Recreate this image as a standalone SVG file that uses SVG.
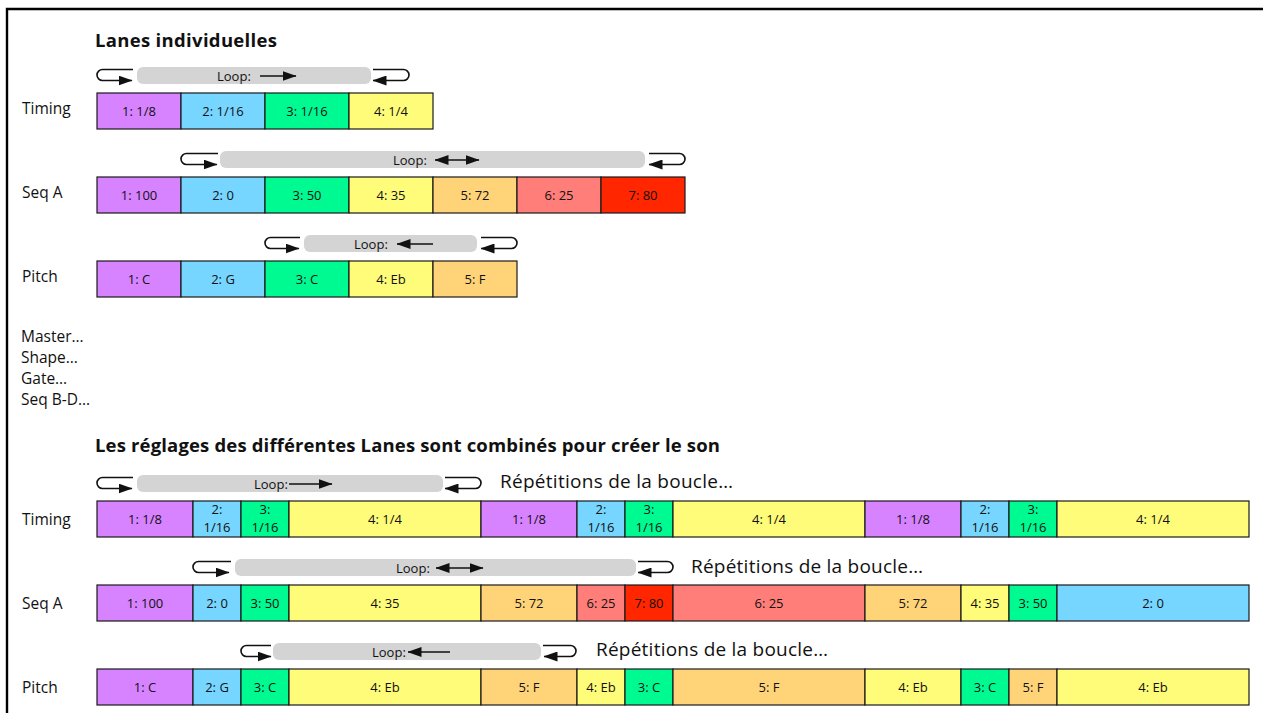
<svg xmlns="http://www.w3.org/2000/svg" width="1263" height="713" viewBox="0 0 1263 713">
<style>
text{font-family:"Open Sans","Noto Sans",sans-serif;fill:#111}
.cell rect{stroke:#1a1a1a;stroke-width:1.2}
.cell text{font-size:13px;text-anchor:middle}
.lab{font-size:15.5px}
.ttl{font-size:18.5px;font-weight:bold}
.rep{font-size:19px}
.bar{fill:#d4d4d4}
.lt{font-size:13px}
.ret{fill:none;stroke:#111;stroke-width:1.6}
.ia{stroke:#111;stroke-width:1.6}
.c1{fill:#D783FF}.c2{fill:#76D6FF}.c3{fill:#00FA92}.c4{fill:#FFFC79}.c5{fill:#FFD479}.c6{fill:#FF7E79}.c7{fill:#FF2600}
</style>
<defs>
<marker id="ah" markerUnits="userSpaceOnUse" viewBox="0 0 14 10" markerWidth="14" markerHeight="10" refX="13.5" refY="5" orient="auto-start-reverse"><path d="M0,0 L14,5 L0,10 z" fill="#111"/></marker>
</defs>
<rect width="1263" height="713" fill="#fff"/>
<path d="M7,713 V9 H1263" fill="none" stroke="#000" stroke-width="2.4"/>

<text class="ttl" x="95" y="47" textLength="182">Lanes individuelles</text>
<text class="ttl" x="95" y="452" textLength="625">Les réglages des différentes Lanes sont combinés pour créer le son</text>

<g id="labels">
<text class="lab" x="22" y="114">Timing</text>
<text class="lab" x="22" y="198">Seq A</text>
<text class="lab" x="22" y="282">Pitch</text>
<text class="lab" x="21" y="342">Master…</text>
<text class="lab" x="21" y="363">Shape…</text>
<text class="lab" x="21" y="384">Gate…</text>
<text class="lab" x="21" y="404.5">Seq B-D…</text>
<text class="lab" x="22" y="524.5">Timing</text>
<text class="lab" x="22" y="608.5">Seq A</text>
<text class="lab" x="22" y="692.5">Pitch</text>
</g>

<!-- top Timing -->
<g id="tt1" class="cell"><rect class="c1" x="97" y="93" width="84" height="36"/><text x="139" y="115.5">1: 1/8</text></g>
<g id="tt2" class="cell"><rect class="c2" x="181" y="93" width="84" height="36"/><text x="223" y="115.5">2: 1/16</text></g>
<g id="tt3" class="cell"><rect class="c3" x="265" y="93" width="84" height="36"/><text x="307" y="115.5">3: 1/16</text></g>
<g id="tt4" class="cell"><rect class="c4" x="349" y="93" width="84" height="36"/><text x="391" y="115.5">4: 1/4</text></g>

<!-- top Seq A -->
<g id="ts1" class="cell"><rect class="c1" x="97" y="177" width="84" height="36"/><text x="139" y="199.5">1: 100</text></g>
<g id="ts2" class="cell"><rect class="c2" x="181" y="177" width="84" height="36"/><text x="223" y="199.5">2: 0</text></g>
<g id="ts3" class="cell"><rect class="c3" x="265" y="177" width="84" height="36"/><text x="307" y="199.5">3: 50</text></g>
<g id="ts4" class="cell"><rect class="c4" x="349" y="177" width="84" height="36"/><text x="391" y="199.5">4: 35</text></g>
<g id="ts5" class="cell"><rect class="c5" x="433" y="177" width="84" height="36"/><text x="475" y="199.5">5: 72</text></g>
<g id="ts6" class="cell"><rect class="c6" x="517" y="177" width="84" height="36"/><text x="559" y="199.5">6: 25</text></g>
<g id="ts7" class="cell"><rect class="c7" x="601" y="177" width="84" height="36"/><text x="643" y="199.5">7: 80</text></g>

<!-- top Pitch -->
<g id="tp1" class="cell"><rect class="c1" x="97" y="261" width="84" height="36"/><text x="139" y="283.5">1: C</text></g>
<g id="tp2" class="cell"><rect class="c2" x="181" y="261" width="84" height="36"/><text x="223" y="283.5">2: G</text></g>
<g id="tp3" class="cell"><rect class="c3" x="265" y="261" width="84" height="36"/><text x="307" y="283.5">3: C</text></g>
<g id="tp4" class="cell"><rect class="c4" x="349" y="261" width="84" height="36"/><text x="391" y="283.5">4: Eb</text></g>
<g id="tp5" class="cell"><rect class="c5" x="433" y="261" width="84" height="36"/><text x="475" y="283.5">5: F</text></g>

<!-- bottom Timing -->
<g id="bt1" class="cell"><rect class="c1" x="97" y="501" width="96" height="36"/><text x="145" y="523.5">1: 1/8</text></g>
<g id="bt2" class="cell"><rect class="c2" x="193" y="501" width="48" height="36"/><text x="217" y="514">2:</text><text x="217" y="532">1/16</text></g>
<g id="bt3" class="cell"><rect class="c3" x="241" y="501" width="48" height="36"/><text x="265" y="514">3:</text><text x="265" y="532">1/16</text></g>
<g id="bt4" class="cell"><rect class="c4" x="289" y="501" width="192" height="36"/><text x="385" y="523.5">4: 1/4</text></g>
<g id="bt5" class="cell"><rect class="c1" x="481" y="501" width="96" height="36"/><text x="529" y="523.5">1: 1/8</text></g>
<g id="bt6" class="cell"><rect class="c2" x="577" y="501" width="48" height="36"/><text x="601" y="514">2:</text><text x="601" y="532">1/16</text></g>
<g id="bt7" class="cell"><rect class="c3" x="625" y="501" width="48" height="36"/><text x="649" y="514">3:</text><text x="649" y="532">1/16</text></g>
<g id="bt8" class="cell"><rect class="c4" x="673" y="501" width="192" height="36"/><text x="769" y="523.5">4: 1/4</text></g>
<g id="bt9" class="cell"><rect class="c1" x="865" y="501" width="96" height="36"/><text x="913" y="523.5">1: 1/8</text></g>
<g id="bt10" class="cell"><rect class="c2" x="961" y="501" width="48" height="36"/><text x="985" y="514">2:</text><text x="985" y="532">1/16</text></g>
<g id="bt11" class="cell"><rect class="c3" x="1009" y="501" width="48" height="36"/><text x="1033" y="514">3:</text><text x="1033" y="532">1/16</text></g>
<g id="bt12" class="cell"><rect class="c4" x="1057" y="501" width="192" height="36"/><text x="1153" y="523.5">4: 1/4</text></g>

<!-- bottom Seq A -->
<g id="bs1" class="cell"><rect class="c1" x="97" y="585" width="96" height="36"/><text x="145" y="607.5">1: 100</text></g>
<g id="bs2" class="cell"><rect class="c2" x="193" y="585" width="48" height="36"/><text x="217" y="607.5">2: 0</text></g>
<g id="bs3" class="cell"><rect class="c3" x="241" y="585" width="48" height="36"/><text x="265" y="607.5">3: 50</text></g>
<g id="bs4" class="cell"><rect class="c4" x="289" y="585" width="192" height="36"/><text x="385" y="607.5">4: 35</text></g>
<g id="bs5" class="cell"><rect class="c5" x="481" y="585" width="96" height="36"/><text x="529" y="607.5">5: 72</text></g>
<g id="bs6" class="cell"><rect class="c6" x="577" y="585" width="48" height="36"/><text x="601" y="607.5">6: 25</text></g>
<g id="bs7" class="cell"><rect class="c7" x="625" y="585" width="48" height="36"/><text x="649" y="607.5">7: 80</text></g>
<g id="bs8" class="cell"><rect class="c6" x="673" y="585" width="192" height="36"/><text x="769" y="607.5">6: 25</text></g>
<g id="bs9" class="cell"><rect class="c5" x="865" y="585" width="96" height="36"/><text x="913" y="607.5">5: 72</text></g>
<g id="bs10" class="cell"><rect class="c4" x="961" y="585" width="48" height="36"/><text x="985" y="607.5">4: 35</text></g>
<g id="bs11" class="cell"><rect class="c3" x="1009" y="585" width="48" height="36"/><text x="1033" y="607.5">3: 50</text></g>
<g id="bs12" class="cell"><rect class="c2" x="1057" y="585" width="192" height="36"/><text x="1153" y="607.5">2: 0</text></g>

<!-- bottom Pitch -->
<g id="bp1" class="cell"><rect class="c1" x="97" y="669" width="96" height="36"/><text x="145" y="691.5">1: C</text></g>
<g id="bp2" class="cell"><rect class="c2" x="193" y="669" width="48" height="36"/><text x="217" y="691.5">2: G</text></g>
<g id="bp3" class="cell"><rect class="c3" x="241" y="669" width="48" height="36"/><text x="265" y="691.5">3: C</text></g>
<g id="bp4" class="cell"><rect class="c4" x="289" y="669" width="192" height="36"/><text x="385" y="691.5">4: Eb</text></g>
<g id="bp5" class="cell"><rect class="c5" x="481" y="669" width="96" height="36"/><text x="529" y="691.5">5: F</text></g>
<g id="bp6" class="cell"><rect class="c4" x="577" y="669" width="48" height="36"/><text x="601" y="691.5">4: Eb</text></g>
<g id="bp7" class="cell"><rect class="c3" x="625" y="669" width="48" height="36"/><text x="649" y="691.5">3: C</text></g>
<g id="bp8" class="cell"><rect class="c5" x="673" y="669" width="192" height="36"/><text x="769" y="691.5">5: F</text></g>
<g id="bp9" class="cell"><rect class="c4" x="865" y="669" width="96" height="36"/><text x="913" y="691.5">4: Eb</text></g>
<g id="bp10" class="cell"><rect class="c3" x="961" y="669" width="48" height="36"/><text x="985" y="691.5">3: C</text></g>
<g id="bp11" class="cell"><rect class="c5" x="1009" y="669" width="48" height="36"/><text x="1033" y="691.5">5: F</text></g>
<g id="bp12" class="cell"><rect class="c4" x="1057" y="669" width="192" height="36"/><text x="1153" y="691.5">4: Eb</text></g>

<!-- loop bars -->
<g id="loop-tt"><rect class="bar" x="137" y="67" width="234" height="17" rx="6"/><text class="lt" x="217" y="80.5">Loop:</text><line class="ia" x1="260" y1="76" x2="296" y2="76" marker-end="url(#ah)"/></g>
<g id="loop-ts"><rect class="bar" x="220" y="151" width="425" height="17" rx="6"/><text class="lt" x="393" y="164.5">Loop:</text><line class="ia" x1="435" y1="160" x2="479" y2="160" marker-start="url(#ah)" marker-end="url(#ah)"/></g>
<g id="loop-tp"><rect class="bar" x="304" y="235" width="173" height="17" rx="6"/><text class="lt" x="354" y="248.5">Loop:</text><line class="ia" x1="433" y1="244" x2="397" y2="244" marker-end="url(#ah)"/></g>
<g id="loop-bt"><rect class="bar" x="137" y="475" width="306" height="17" rx="6"/><text class="lt" x="254" y="488.5">Loop:</text><line class="ia" x1="289" y1="484" x2="332" y2="484" marker-end="url(#ah)"/></g>
<g id="loop-bs"><rect class="bar" x="235" y="559" width="401" height="17" rx="6"/><text class="lt" x="396" y="572.5">Loop:</text><line class="ia" x1="436" y1="568" x2="483" y2="568" marker-start="url(#ah)" marker-end="url(#ah)"/></g>
<g id="loop-bp"><rect class="bar" x="273" y="643" width="268" height="17" rx="6"/><text class="lt" x="372" y="656.5">Loop:</text><line class="ia" x1="450" y1="652" x2="408" y2="652" marker-end="url(#ah)"/></g>

<g id="repeats">
<text class="rep" x="500" y="487.5" textLength="233">Répétitions de la boucle…</text>
<text class="rep" x="691" y="573" textLength="232">Répétitions de la boucle…</text>
<text class="rep" x="596" y="656" textLength="232">Répétitions de la boucle…</text>
</g>

<g id="connectors">
<path class="ret" d="M133,69.5 H102.5 A5.5,5.5 0 0 0 102.5,80.5 H132" marker-end="url(#ah)"/>
<path class="ret" d="M373,69.5 H403.5 A5.5,5.5 0 0 1 403.5,80.5 H373" marker-end="url(#ah)"/>
<path class="ret" d="M218,153.5 H186.5 A5.5,5.5 0 0 0 186.5,164.5 H217" marker-end="url(#ah)"/>
<path class="ret" d="M649,153.5 H679.5 A5.5,5.5 0 0 1 679.5,164.5 H649" marker-end="url(#ah)"/>
<path class="ret" d="M300,237.5 H270.5 A5.5,5.5 0 0 0 270.5,248.5 H299" marker-end="url(#ah)"/>
<path class="ret" d="M481,237.5 H511.5 A5.5,5.5 0 0 1 511.5,248.5 H481" marker-end="url(#ah)"/>
<path class="ret" d="M133,477.5 H102.5 A5.5,5.5 0 0 0 102.5,488.5 H132" marker-end="url(#ah)"/>
<path class="ret" d="M445,477.5 H475.5 A5.5,5.5 0 0 1 475.5,488.5 H445" marker-end="url(#ah)"/>
<path class="ret" d="M231,561.5 H198.5 A5.5,5.5 0 0 0 198.5,572.5 H229" marker-end="url(#ah)"/>
<path class="ret" d="M638,561.5 H667.5 A5.5,5.5 0 0 1 667.5,572.5 H638" marker-end="url(#ah)"/>
<path class="ret" d="M271,645.5 H246.5 A5.5,5.5 0 0 0 246.5,656.5 H271" marker-end="url(#ah)"/>
<path class="ret" d="M543,645.5 H570.5 A5.5,5.5 0 0 1 570.5,656.5 H544" marker-end="url(#ah)"/>
</g>
</svg>
